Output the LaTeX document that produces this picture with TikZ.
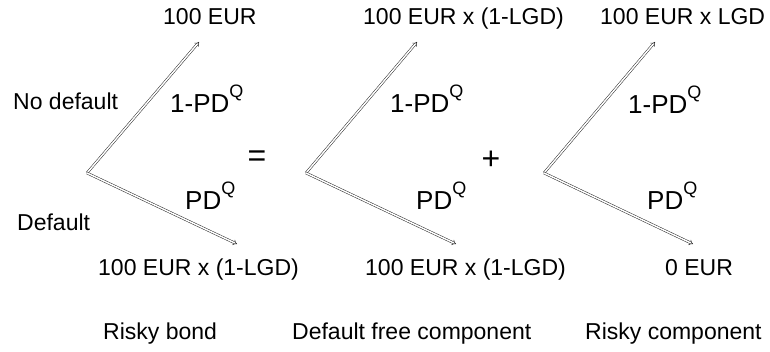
\documentclass[tikz,border=0pt]{standalone}
\usepackage{fontspec}
\setmainfont{Liberation Sans}
\usetikzlibrary{arrows.meta}
\newcommand{\lblfont}{\fontsize{23}{23}\selectfont}
\newcommand{\probfont}{\fontsize{26}{26}\selectfont}
\newcommand{\supQ}{\raisebox{15pt}{\fontsize{18}{18}\selectfont Q}}
\begin{document}
\begin{tikzpicture}[x=1pt,y=-1pt,
  txt/.style={inner sep=0pt, anchor=base west, font=\lblfont},
  prob/.style={inner sep=0pt, anchor=base west, font=\probfont},
  branch/.style={draw=black!85, line width=0.5pt, double=white, double distance=1.5pt, -{Implies[length=6pt,width=8pt]}}]
\useasboundingbox (0,0) rectangle (770,352);
% tree 1
\coordinate (r1) at (87,173);
\coordinate (t1) at (199,42);
\coordinate (b1) at (237,244);
\draw[branch] (r1) -- (t1);
\draw[branch] (r1) -- (b1);
% tree 2
\coordinate (r2) at (306,173);
\coordinate (t2) at (417,42);
\coordinate (b2) at (456,244);
\draw[branch] (r2) -- (t2);
\draw[branch] (r2) -- (b2);
% tree 3
\coordinate (r3) at (544,173);
\coordinate (t3) at (655,42);
\coordinate (b3) at (693,244);
\draw[branch] (r3) -- (t3);
\draw[branch] (r3) -- (b3);
% top outcomes
\node[txt] (o1) at (163,25) {100 EUR};
\node[txt] (o2) at (363,25) {100 EUR x (1-LGD)};
\node[txt] (o3) at (600,25) {100 EUR x LGD};
% bottom outcomes
\node[txt] (d1) at (98,276) {100 EUR x (1-LGD)};
\node[txt] (d2) at (365,276) {100 EUR x (1-LGD)};
\node[txt] (d3) at (665,276) {0 EUR};
% side labels
\node[txt] (nd) at (13,110) {No default};
\node[txt] (df) at (17,231) {Default};
% probabilities
\node[prob] (p1) at (170,113) {1-PD\supQ};
\node[prob] (q1) at (185,210) {PD\supQ};
\node[prob] (p2) at (390,113) {1-PD\supQ};
\node[prob] (q2) at (416,210) {PD\supQ};
\node[prob] (p3) at (628,114) {1-PD\supQ};
\node[prob] (q3) at (647,210) {PD\supQ};
% operators
\node[inner sep=0pt, font=\fontsize{32}{32}\selectfont] (eq) at (257,159) {=};
\node[inner sep=0pt, font=\fontsize{32}{32}\selectfont] (pl) at (491,160) {+};
% captions
\node[txt] (c1) at (103,339) {Risky bond};
\node[txt] (c2) at (292,339) {Default free component};
\node[txt] (c3) at (585,339) {Risky component};
\end{tikzpicture}
\end{document}
